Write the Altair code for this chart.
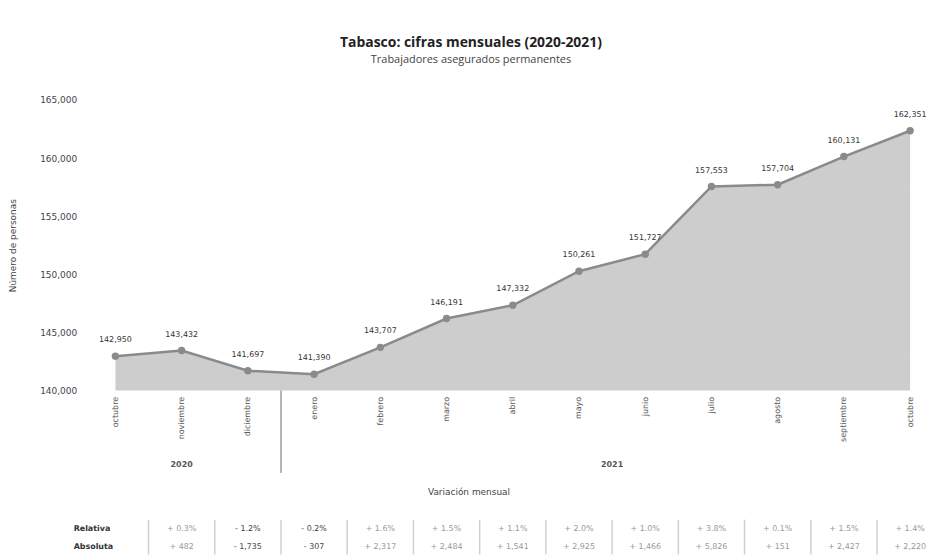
import altair as alt
import pandas as pd

MONTHS = ["octubre", "noviembre", "diciembre", "enero", "febrero", "marzo", "abril",
          "mayo", "junio", "julio", "agosto", "septiembre", "octubre"]
YEAR_OF = ["2020", "2020", "2020", "2021", "2021", "2021", "2021", "2021", "2021",
           "2021", "2021", "2021", "2021"]
VALUES = [142950, 143432, 141697, 141390, 143707, 146191, 147332, 150261, 151727,
          157553, 157704, 160131, 162351]
REL = ["+ 0.3%", "- 1.2%", "- 0.2%", "+ 1.6%", "+ 1.5%", "+ 1.1%", "+ 2.0%", "+ 1.0%",
       "+ 3.8%", "+ 0.1%", "+ 1.5%", "+ 1.4%"]
ABS = ["+ 482", "- 1,735", "- 307", "+ 2,317", "+ 2,484", "+ 1,541", "+ 2,925", "+ 1,466",
       "+ 5,826", "+ 151", "+ 2,427", "+ 2,220"]
Y_TICKS = [140000, 145000, 150000, 155000, 160000, 165000]
ROW_NAMES = ["Relativa", "Absoluta"]

W, H = 799, 292
FONT = "DejaVu Sans"
ROW_Y = [H + 139, H + 157]

idx = list(range(len(MONTHS)))
main = pd.DataFrame({"idx": idx, "mes": MONTHS, "valor": VALUES, "base": [Y_TICKS[0]] * len(idx)})

years = sorted(set(YEAR_OF))
year_df = pd.DataFrame({
    "anio": years,
    "pos": [sum(i for i in idx if YEAR_OF[i] == y) / YEAR_OF.count(y) for y in years],
})
sep_df = pd.DataFrame({"pos": [max(i for i in idx if YEAR_OF[i] == y) + 0.5 for y in years[:-1]]})

tab = pd.DataFrame({
    "idx": idx[1:],
    "rel": REL,
    "abs": ABS,
    "neg": [r.startswith("-") for r in REL],
    "sep": [i - 0.5 for i in idx[1:]],
})

label_expr = "[" + ",".join("'%s'" % m for m in MONTHS) + "][datum.value]"

xscale = alt.Scale(domain=[0, len(MONTHS) - 1], nice=False, zero=False)
yscale = alt.Scale(domain=[Y_TICKS[0], Y_TICKS[-1]], nice=False, zero=False)

x_axis = alt.Axis(values=idx, labelExpr=label_expr, labelAngle=-90, labelFontSize=8,
                  labelColor="#555", labelFont=FONT, labelPadding=6, ticks=False,
                  domain=False, grid=False, title="Variación mensual",
                  titleFont=FONT, titleFontSize=9, titleFontWeight="normal",
                  titleColor="#444", titleX=355, titleY=98, titleAnchor="start",
                  titleAlign="center")
y_axis = alt.Axis(values=Y_TICKS, format=",.0f", labelFontSize=9, labelColor="#444",
                  labelFont=FONT, labelPadding=39, ticks=False, domain=False,
                  grid=False, title="Número de personas", titleFont=FONT,
                  titleFontSize=9, titleFontWeight="normal", titleColor="#444",
                  titlePadding=22)
x_enc = alt.X("idx:Q", scale=xscale, axis=x_axis)
y_enc = alt.Y("valor:Q", scale=yscale, axis=y_axis)

base = alt.Chart(main)
area = base.mark_area(color="#cdcdcd", opacity=1).encode(x=x_enc, y=y_enc, y2="base:Q")
line = base.mark_line(color="#8a8a8a", strokeWidth=2.5).encode(x=x_enc, y=y_enc)
pts = base.mark_circle(color="#8a8a8a", opacity=1, size=55).encode(x=x_enc, y=y_enc)
lbl = base.mark_text(font=FONT, fontSize=8, color="#333", baseline="middle", dy=-16).encode(
    x=x_enc, y=y_enc, text=alt.Text("valor:Q", format=",.0f"))

sep = alt.Chart(sep_df).mark_rule(color="#b5b5b5", strokeWidth=2).encode(
    x=alt.X("pos:Q", scale=xscale, axis=x_axis), y=alt.value(H), y2=alt.value(H + 83))
yr = alt.Chart(year_df).mark_text(font=FONT, fontSize=8, color="#555", fontWeight="bold").encode(
    x=alt.X("pos:Q", scale=xscale, axis=x_axis), y=alt.value(H + 75), text="anio:N")

tsep = alt.Chart(tab).mark_rule(color="#d0d0d0", strokeWidth=1.5).encode(
    x=alt.X("sep:Q", scale=xscale, axis=x_axis), y=alt.value(H + 130), y2=alt.value(H + 165))
color_enc = alt.condition("datum.neg", alt.value("#444"), alt.value("#999"))
trel = alt.Chart(tab).mark_text(font=FONT, fontSize=8).encode(
    x=x_enc, y=alt.value(ROW_Y[0]), text="rel:N", color=color_enc)
tabs = alt.Chart(tab).mark_text(font=FONT, fontSize=8).encode(
    x=x_enc, y=alt.value(ROW_Y[1]), text="abs:N", color=color_enc)

row_layers = []
for name, ry in zip(ROW_NAMES, ROW_Y):
    row_layers.append(
        alt.Chart(pd.DataFrame({"fila": [name]})).mark_text(
            font=FONT, fontSize=8, color="#333", align="left", fontWeight="bold").encode(
            x=alt.value(-42), y=alt.value(ry), text="fila:N"))

chart = alt.layer(area, line, pts, lbl, sep, yr, tsep, trel, tabs, *row_layers).properties(
    width=W, height=H,
    title=alt.TitleParams("Tabasco: cifras mensuales (2020-2021)",
                          subtitle="Trabajadores asegurados permanentes",
                          font="Open Sans", fontSize=14, fontWeight="bold", color="#222",
                          subtitleFont="Open Sans", subtitleFontSize=11, subtitleColor="#444",
                          subtitlePadding=4, offset=31, anchor="middle", dx=-42),
    padding={"top": 27, "left": 0, "right": 5, "bottom": 0},
).configure_view(stroke=None)

chart.save("out.html", embed_options={"renderer": "svg", "actions": False})
